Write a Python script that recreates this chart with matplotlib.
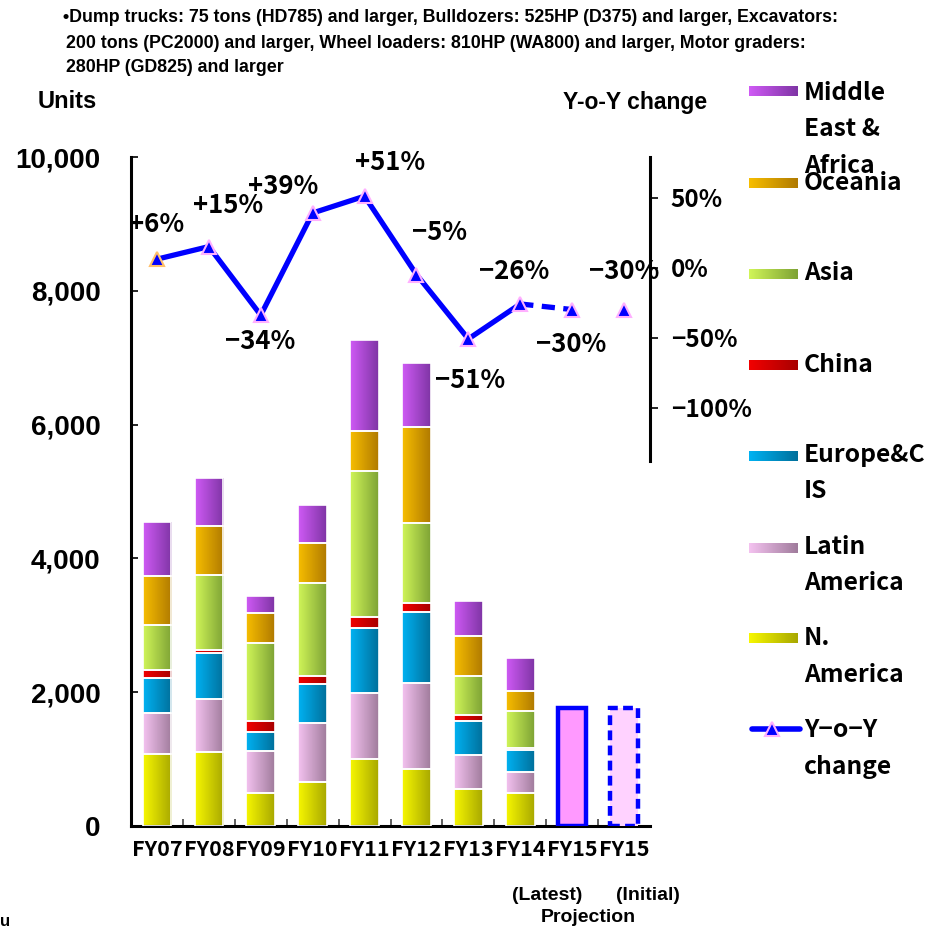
import numpy as np
import matplotlib
matplotlib.use("Agg")
import matplotlib.pyplot as plt
from matplotlib.colors import LinearSegmentedColormap
from matplotlib.patches import Rectangle
from matplotlib import font_manager

# ---- data -------------------------------------------------------------
categories = ["FY07", "FY08", "FY09", "FY10", "FY11", "FY12", "FY13", "FY14", "FY15", "FY15"]
n_america = [1070, 1100, 500, 660, 1000, 850, 550, 490]
latin_america = [615, 800, 620, 880, 995, 1290, 510, 310]
europe_cis = [525, 680, 290, 590, 965, 1055, 510, 340]
china = [115, 55, 165, 115, 170, 140, 85, 30]
asia = [675, 1115, 1155, 1380, 2175, 1200, 585, 555]
oceania = [735, 730, 455, 605, 605, 1425, 595, 300]
middle_east_africa = [805, 720, 255, 565, 1355, 965, 530, 480]
fy15_latest = 1760
fy15_initial = 1760
yoy_change = [6, 15, -34, 39, 51, -5, -51, -26, -30, -30]
yoy_labels = ["+6%", "+15%", "-34%", "+39%", "+51%", "-5%", "-51%", "-26%", "-30%", "-30%"]
left_ticks = [0, 2000, 4000, 6000, 8000, 10000]
right_ticks = [50, 0, -50, -100]

# ---- styles -----------------------------------------------------------
series = [
    ("N.\nAmerica", n_america, ("#F7F700", "#A8A800")),
    ("Latin\nAmerica", latin_america, ("#F4C2F0", "#A07C9C")),
    ("Europe&C\nIS", europe_cis, ("#00B2F2", "#00709C")),
    ("China", china, ("#F20000", "#A80000")),
    ("Asia", asia, ("#D0F558", "#7EA335")),
    ("Oceania", oceania, ("#F7BE00", "#B07A00")),
    ("Middle\nEast &\nAfrica", middle_east_africa, ("#CF5AF5", "#7F35A5")),
]
label_offsets = [(0.0, 25), (0.38, 29.6), (-0.02, -18.5), (-0.56, 19), (0.5, 24),
                 (0.44, 30), (0.04, -29.7), (-0.12, 23), (-0.02, -25), (0.0, 27)]

installed = {f.name for f in font_manager.fontManager.ttflist}
narrow = ["Liberation Sans Narrow", "Liberation Sans", "DejaVu Sans"] if "Liberation Sans Narrow" in installed else ["Liberation Sans", "DejaVu Sans"]
gothic = ["Noto Sans CJK JP", "DejaVu Sans"]
arial = ["Liberation Sans", "DejaVu Sans"]

W, H = 946, 932
fig = plt.figure(figsize=(W / 100, H / 100), dpi=100)
ax = fig.add_axes([131 / W, 1 - 826 / H, 519 / W, 669 / H])
ax2 = ax.twinx()

x = np.arange(len(categories))
bar_w = 0.55


def gradient_fill(axis, patch, c0, c1, z):
    cmap = LinearSegmentedColormap.from_list("g", [c0, c1])
    grad = np.linspace(0, 1, 64).reshape(1, -1)
    x0, y0 = patch.get_x(), patch.get_y()
    w, h = patch.get_width(), patch.get_height()
    im = axis.imshow(grad, cmap=cmap, extent=[x0, x0 + w, y0, y0 + h],
                     aspect="auto", origin="lower", zorder=z, interpolation="bilinear")
    im.set_clip_path(patch)


bottom = np.zeros(8)
for name, vals, (c0, c1) in series:
    bars = ax.bar(x[:8], vals, bar_w, bottom=bottom, facecolor="none",
                  edgecolor="white", linewidth=1.2, zorder=3)
    for p in bars:
        gradient_fill(ax, p, c0, c1, 2)
    bottom += np.array(vals)

ax.bar(x[8], fy15_latest, bar_w, facecolor="#FF99FF", edgecolor="#0000FF",
       linewidth=3.2, zorder=3)
ax.bar(x[9], fy15_initial, bar_w, facecolor="#FFD2FF", edgecolor="#0000FF",
       linewidth=3.2, linestyle=(0, (2.2, 1.2)), zorder=3)

ax.set_xlim(-0.5, 9.5)
ax.set_ylim(0, 10000)
ax.set_yticks(left_ticks)
ax.set_yticklabels([f"{v:,}" for v in left_ticks], fontsize=20, fontweight="bold",
                   family=arial)
ax.tick_params(axis="y", direction="in", length=5, width=1.2, pad=22)
ax.set_xticks(x)
ax.set_xticklabels(categories, fontsize=15.5, fontweight="bold", family=gothic)
ax.set_xticks(np.arange(0.5, 9.5, 1), minor=True)
ax.tick_params(axis="x", which="major", length=0, pad=9)
ax.tick_params(axis="x", which="minor", direction="in", length=5, width=1.2, color="#444444")
for s in ["top", "right"]:
    ax.spines[s].set_visible(False)
for s in ["left", "bottom"]:
    ax.spines[s].set_linewidth(2.2)

# ---- year-on-year line --------------------------------------------------
ax2.set_ylim(-399, 79)
ax2.plot(x[:8], yoy_change[:8], color="#0000FF", lw=3.8, zorder=5, solid_capstyle="round")
ax2.plot(x[7:9], yoy_change[7:9], color="#0000FF", lw=3.8, ls=(0, (2.5, 1.6)), zorder=5)
for i, v in enumerate(yoy_change):
    ec = "#FFC06A" if i == 0 else "#FFB0FF"
    ax2.plot(x[i], v, marker="^", ms=10, mfc="#0000FF", mec=ec, mew=1.5, zorder=6)
for i, (v, lab) in enumerate(zip(yoy_change, yoy_labels)):
    dx, dy = label_offsets[i]
    ax2.text(x[i] + dx, v + dy, lab.replace("-", "\u2212"), ha="center", va="center",
             fontsize=18.5, fontweight="bold", family=gothic, zorder=7)
ax2.set_yticks(right_ticks)
ax2.set_yticklabels([f"{v}%".replace("-", "\u2212") for v in right_ticks], fontsize=17.5,
                    fontweight="bold", family=gothic)
ax2.tick_params(axis="y", direction="out", length=6, width=1.2, pad=9)
for s in ["top", "left", "bottom"]:
    ax2.spines[s].set_visible(False)
ax2.spines["right"].set_bounds(-138, 79)
ax2.spines["right"].set_linewidth(2.2)

# ---- overlay in pixel coordinates for legend and notes ------------------
ov = fig.add_axes([0, 0, 1, 1], zorder=10)
ov.set_xlim(0, W)
ov.set_ylim(H, 0)
ov.axis("off")
ov.patch.set_alpha(0)

legend_rows = [
    ("Middle\nEast &\nAfrica", series[6][2], 91, 93),
    ("Oceania", series[5][2], 183, 183),
    ("Asia", series[4][2], 274, 273),
    ("China", series[3][2], 365, 365),
    ("Europe&C\nIS", series[2][2], 456, 455),
    ("Latin\nAmerica", series[1][2], 548, 547),
    ("N.\nAmerica", series[0][2], 638, 638),
]
for text, (c0, c1), py, ty in legend_rows:
    r = Rectangle((749, py - 5.5), 49, 11, facecolor="none", edgecolor="none")
    ov.add_patch(r)
    cmap = LinearSegmentedColormap.from_list("g", [c0, c1])
    im = ov.imshow(np.linspace(0, 1, 64).reshape(1, -1), cmap=cmap,
                   extent=[749, 798, py + 5.5, py - 5.5], aspect="auto", zorder=2)
    im.set_clip_path(r)
    for k, line in enumerate(text.split("\n")):
        ov.text(804, ty + 36.5 * k, line, ha="left", va="center", fontsize=17.7,
                fontweight="bold", family=gothic)
ov.plot([752, 800], [729, 729], color="#0000FF", lw=4, solid_capstyle="round")
ov.plot(772, 729, marker="^", ms=10, mfc="#0000FF", mec="#FFB0FF", mew=1.5)
ov.text(804, 730, "Y\u2212o\u2212Y", ha="left", va="center", fontsize=17.7, fontweight="bold", family=gothic)
ov.text(804, 767, "change", ha="left", va="center", fontsize=17.7, fontweight="bold", family=gothic)

note = ["\u2022Dump trucks: 75 tons (HD785) and larger, Bulldozers: 525HP (D375) and larger, Excavators:",
        "200 tons (PC2000) and larger, Wheel loaders: 810HP (WA800) and larger, Motor graders:",
        "280HP (GD825) and larger"]
for k, line in enumerate(note):
    ov.text(63 if k == 0 else 66, 18 + 25 * k, line, ha="left", va="center", fontsize=12.8,
            fontweight="bold", family=narrow)
ov.text(38, 102, "Units", ha="left", va="center", fontsize=17, fontweight="bold", family=narrow)
ov.text(563, 102, "Y-o-Y change", ha="left", va="center", fontsize=16.5, fontweight="bold", family=narrow)
ov.text(547, 895, "(Latest)", ha="center", va="center", fontsize=14, fontweight="bold", family=narrow)
ov.text(648, 895, "(Initial)", ha="center", va="center", fontsize=14, fontweight="bold", family=narrow)
ov.text(588, 918, "Projection", ha="center", va="center", fontsize=14, fontweight="bold", family=narrow)
ov.text(0, 922, "u", ha="left", va="center", fontsize=12, fontweight="bold", family=narrow)

fig.savefig("out.png", dpi=100)
